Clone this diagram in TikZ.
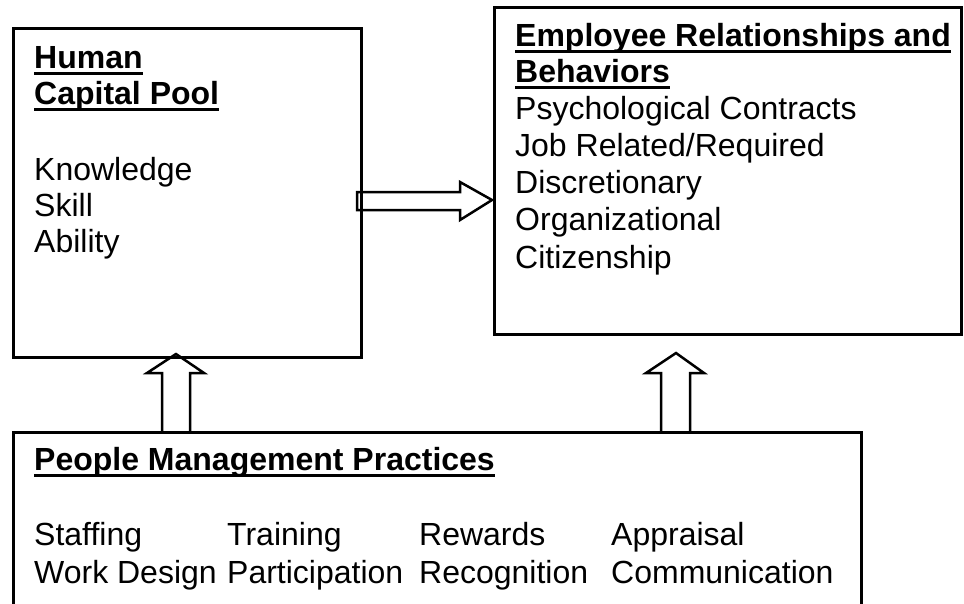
\documentclass[tikz,border=0pt]{standalone}
\usepackage{fontspec}
\setmainfont{Liberation Sans}
\begin{document}
\begin{tikzpicture}[x=1pt,y=-1pt,
  frame/.style={draw=black,line width=2.5pt,anchor=north west,inner sep=0pt},
  blockarrow/.style={draw=black,line width=2.5pt,line join=miter},
  txt/.style={anchor=base west,inner sep=0pt,font=\fontsize{32}{37}\selectfont},
  headtxt/.style={anchor=base west,inner sep=0pt,font=\fontsize{32}{37}\selectfont\bfseries},
  uline/.style={line width=3pt}]
\useasboundingbox (0,0) rectangle (964,603);
% boxes
\node[frame,minimum width=348pt,minimum height=329pt] (hcp) at (12,27) {};
\node[frame,minimum width=467pt,minimum height=327pt] (erb) at (493,6) {};
\node[frame,minimum width=848pt,minimum height=200pt] (pmp) at (12,431) {};
% block arrows
\draw[blockarrow] (357,192) -- (460,192) -- (460,182) -- (492,200) -- (460,220) -- (460,210) -- (357,210) -- cycle;
\draw[blockarrow] (162,431) -- (162,373) -- (147,373) -- (176,354) -- (204,373) -- (190,373) -- (190,431);
\draw[blockarrow] (661,431) -- (661,373) -- (646,373) -- (676,353) -- (704,373) -- (690,373) -- (690,431);
% left box text
\node[headtxt] (h1a) at (34,68) {Human};
\node[headtxt] (h1b) at (34,104) {Capital Pool};
\draw[uline] ([yshift=-5.5pt]h1a.base west) -- ([yshift=-5.5pt]h1a.base east);
\draw[uline] ([yshift=-5.5pt]h1b.base west) -- ([yshift=-5.5pt]h1b.base east);
\node[txt] (k1) at (34,180) {Knowledge};
\node[txt] (k2) at (34,216) {Skill};
\node[txt] (k3) at (34,252) {Ability};
% right box text
\node[headtxt] (h2a) at (515,46) {Employee Relationships and};
\node[headtxt] (h2b) at (515,82) {Behaviors};
\draw[uline] ([yshift=-5.5pt]h2a.base west) -- ([yshift=-5.5pt]h2a.base east);
\draw[uline] ([yshift=-5.5pt]h2b.base west) -- ([yshift=-5.5pt]h2b.base east);
\node[txt] (r1) at (515,119) {Psychological Contracts};
\node[txt] (r2) at (515,156) {Job Related/Required};
\node[txt] (r3) at (515,193) {Discretionary};
\node[txt] (r4) at (515,230) {Organizational};
\node[txt] (r5) at (515,268) {Citizenship};
% bottom box text
\node[headtxt] (h3) at (34,470) {People Management Practices};
\draw[uline] ([yshift=-5.5pt]h3.base west) -- ([yshift=-5.5pt]h3.base east);
\node[txt] (b1) at (34,545) {Staffing};
\node[txt] (b2) at (227,545) {Training};
\node[txt] (b3) at (419,545) {Rewards};
\node[txt] (b4) at (611,545) {Appraisal};
\node[txt] (b5) at (34,583) {Work Design};
\node[txt] (b6) at (227,583) {Participation};
\node[txt] (b7) at (419,583) {Recognition};
\node[txt] (b8) at (611,583) {Communication};
\end{tikzpicture}
\end{document}
